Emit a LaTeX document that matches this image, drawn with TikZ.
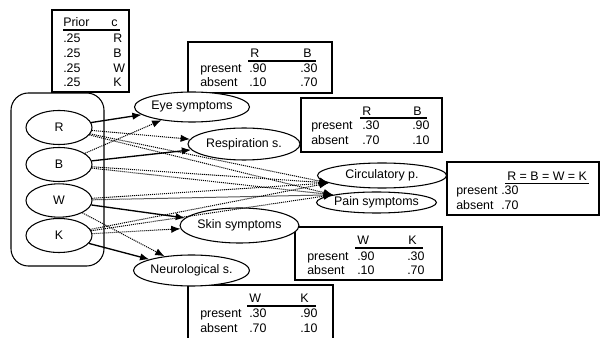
\documentclass[tikz,border=0pt]{standalone}
\usepackage{fontspec}
\setmainfont{Liberation Sans}
\usetikzlibrary{shapes.geometric,arrows.meta}
\begin{document}
\begin{tikzpicture}[x=0.75pt,y=-0.75pt,
  every node/.style={font=\fontsize{9.3}{11}\selectfont},
  tx/.style={anchor=base west,inner sep=0pt},
  ell/.style={draw,ellipse,fill=white,inner sep=0pt,line width=0.8pt},
  tbl/.style={draw,line width=0.8pt},
  solidarr/.style={-{Latex[length=7pt,width=5.5pt]},line width=1pt},
  dotarr/.style={-{Latex[length=7pt,width=5.5pt]},line width=0.75pt,dash pattern=on 0.8pt off 0.7pt},
  ul/.style={line width=0.9pt}]
\useasboundingbox (0,0) rectangle (600,338);

% prior table
\draw[tbl] (52,10) rectangle (129,92);
\node[tx] (pH) at (63,27) {Prior};
\node[tx] (pC) at (111,27) {c};
\draw[ul] (63,30) -- (120,30);
\node[tx] (p1) at (63,43) {.25}; \node[tx] (c1) at (113,43) {R};
\node[tx] (p2) at (63,58) {.25}; \node[tx] (c2) at (113,58) {B};
\node[tx] (p3) at (63,72.5) {.25}; \node[tx] (c3) at (113,72.5) {W};
\node[tx] (p4) at (63,87) {.25}; \node[tx] (c4) at (113,87) {K};

% class container
\draw[line width=0.8pt,rounded corners=13pt] (11,93) rectangle (104,266);

% tables
\draw[tbl] (188,42) rectangle (332,93);
\node[tx] (eR) at (250,58) {R}; \node[tx] (eB) at (303,58) {B};
\draw[ul] (248,61) -- (316,61);
\node[tx] (eP) at (200,73) {present}; \node[tx] (eP1) at (249,73) {.90}; \node[tx] (eP2) at (300,73) {.30};
\node[tx] (eA) at (200,87) {absent}; \node[tx] (eA1) at (249,87) {.10}; \node[tx] (eA2) at (300,87) {.70};

\draw[tbl] (301,98) rectangle (442,152);
\node[tx] (rR) at (362,115.5) {R}; \node[tx] (rB) at (413,115.5) {B};
\draw[ul] (360,118) -- (427,118);
\node[tx] (rP) at (311,130) {present}; \node[tx] (rP1) at (362,130) {.30}; \node[tx] (rP2) at (412,130) {.90};
\node[tx] (rA) at (311,145) {absent}; \node[tx] (rA1) at (362,145) {.70}; \node[tx] (rA2) at (412,145) {.10};

\draw[tbl] (447,162) rectangle (599,215);
\node[tx] (cH) at (507,180.5) {R = B = W = K};
\draw[ul] (505,183.5) -- (589,183.5);
\node[tx] (cP) at (456,195) {present}; \node[tx] (cP1) at (501,195) {.30};
\node[tx] (cA) at (456,210) {absent}; \node[tx] (cA1) at (501,210) {.70};

\draw[tbl] (295,227) rectangle (442,280);
\node[tx] (sW) at (357,245) {W}; \node[tx] (sK) at (408,245) {K};
\draw[ul] (355,248) -- (423,248);
\node[tx] (sP) at (307,260.5) {present}; \node[tx] (sP1) at (357,260.5) {.90}; \node[tx] (sP2) at (407,260.5) {.30};
\node[tx] (sA) at (307,274.5) {absent}; \node[tx] (sA1) at (357,274.5) {.10}; \node[tx] (sA2) at (407,274.5) {.70};

\draw[tbl] (188,339) -- (188,285) -- (333,285) -- (333,339);
\node[tx] (nW) at (249,303) {W}; \node[tx] (nK) at (300,303) {K};
\draw[ul] (247,306) -- (316,306);
\node[tx] (nP) at (200,318) {present}; \node[tx] (nP1) at (249,318) {.30}; \node[tx] (nP2) at (300,318) {.90};
\node[tx] (nA) at (200,332.5) {absent}; \node[tx] (nA1) at (249,332.5) {.70}; \node[tx] (nA2) at (300,332.5) {.10};

% ellipses
\node[ell,minimum width=49.5pt,minimum height=25.5pt] (R) at (59,127.5) {R};
\node[ell,minimum width=49.5pt,minimum height=25.5pt] (B) at (59,164.5) {B};
\node[ell,minimum width=49.5pt,minimum height=25pt] (W) at (59,200.5) {W};
\node[ell,minimum width=49.5pt,minimum height=25.5pt] (K) at (59,235.5) {K};

\node[ell,minimum width=84pt,minimum height=22.5pt] (eye) at (192,107) {Eye symptoms};
\node[ell,minimum width=84pt,minimum height=24pt] (resp) at (244,144) {Respiration s.};
\node[ell,minimum width=96.75pt,minimum height=18.75pt] (circ) at (382,175.5) {Circulatory p.};
\node[ell,minimum width=84.75pt,minimum height=15.75pt] (pain) at (376.5,202.5) {Pain symptoms};
\node[ell,minimum width=84.75pt,minimum height=26.25pt] (skin) at (239.5,225.5) {Skin symptoms};
\node[ell,minimum width=84.75pt,minimum height=23.25pt] (neuro) at (191.5,270.5) {Neurological s.};

% edges
\draw[solidarr] (R) -- (eye);
\draw[dotarr] (B) -- (eye);
\draw[solidarr] (B) -- (resp);
\draw[dotarr] (R) -- (resp);
\foreach \s in {R,B,W,K}{
  \draw[dotarr] (\s) -- (circ.188);
  \draw[dotarr] (\s) -- (pain.170);
}
\draw[solidarr] (W) -- (skin);
\draw[dotarr] (K) -- (skin);
\draw[solidarr] (K) -- (neuro);
\draw[dotarr] (W) -- (neuro);
\end{tikzpicture}
\end{document}
